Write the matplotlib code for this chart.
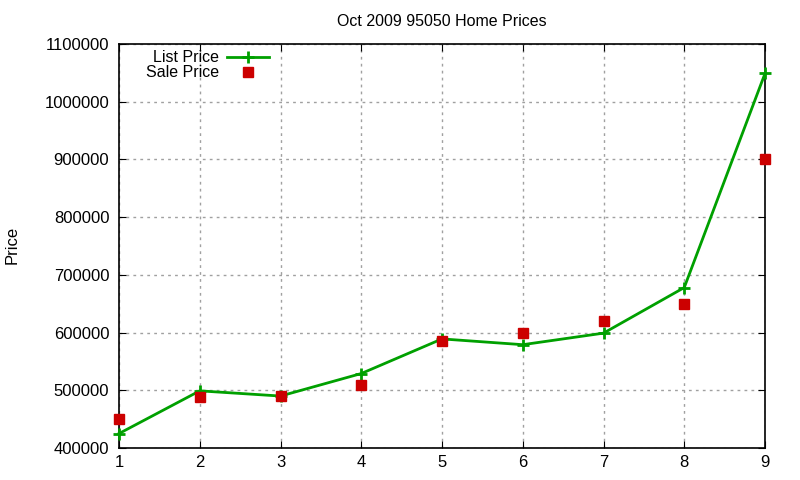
import numpy as np
import matplotlib
matplotlib.use('Agg')
import matplotlib.pyplot as plt
from matplotlib.lines import Line2D

plt.rcParams['font.family'] = ['Liberation Sans', 'DejaVu Sans']

# Data
months = [1, 2, 3, 4, 5, 6, 7, 8, 9]
list_price = [425000, 499000, 490000, 529000, 589000, 579000, 599000, 678000, 1049000]
sale_price = [450000, 488000, 490000, 509000, 585000, 599000, 620000, 650000, 900000]

fig = plt.figure(figsize=(8, 4.8), dpi=100)
ax = fig.add_axes([0.14875, 0.0667, 0.8075, 0.8416])

ax.plot(months, list_price, color='#00a000', linewidth=2, marker='+',
        markersize=9, markeredgewidth=2, zorder=4, clip_on=False)
ax.plot(months, sale_price, linestyle='none', marker='s', color='#cc0000',
        markersize=6.5, zorder=5, clip_on=False)

ax.set_xlim(1, 9)
ax.set_ylim(400000, 1100000)
ax.set_xticks(months)
ax.set_yticks(np.arange(400000, 1100001, 100000))
ax.ticklabel_format(axis='y', style='plain', useOffset=False)
ax.tick_params(direction='in', top=True, right=True, labelsize=12, length=5)
ax.tick_params(axis='x', pad=5)
ax.tick_params(axis='y', pad=7)
ax.grid(True, linestyle=(0, (2, 3)), color='#a0a0a0', linewidth=1)
for s in ax.spines.values():
    s.set_linewidth(1.2)

ax.set_title('Oct 2009 95050 Home Prices', fontsize=11.5, pad=13)
fig.text(0.006, 0.49, 'Price', rotation=90, fontsize=12, va='center')

# legend
h1 = Line2D([], [], color='#00a000', linewidth=2, marker='+', markersize=9,
            markeredgewidth=2)
h2 = Line2D([], [], color='#cc0000', linestyle='none', marker='s', markersize=6.5)
ax.legend([h1, h2], ['List Price', 'Sale Price'], loc='upper left',
          bbox_to_anchor=(0.02, 1.02), frameon=False, markerfirst=False,
          fontsize=11.5, handlelength=2.6, labelspacing=0.0, handletextpad=0.5)

fig.savefig('out.png', dpi=100)
